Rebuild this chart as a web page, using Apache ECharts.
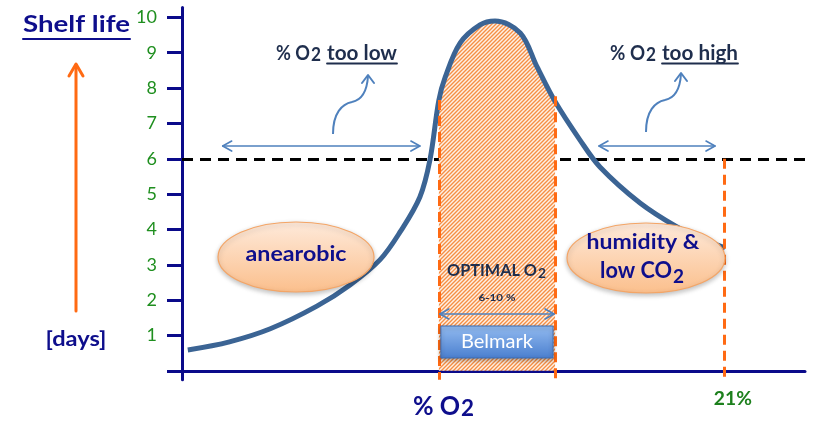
<!DOCTYPE html>
<html><head><meta charset="utf-8">
<script src="https://cdn.jsdelivr.net/npm/echarts@6/dist/echarts.min.js"></script>
<style>html,body{margin:0;padding:0;background:#fff}#c{width:815px;height:421px}</style>
</head><body><div id="c"></div>
<script>
// ---- data (x: % O2 on a log scale, y: shelf life in days) ----
const o2Percent    = [1.99, 2.39, 2.86, 3.51, 4.06, 4.63, 5.06, 5.52, 5.77, 6.0, 6.17, 6.59, 7.19, 7.68, 8.58, 9.24, 10.0, 11.16, 12.18, 14.53, 17.09, 18.91, 21.11];
const shelfLifeDays= [0.59, 0.82, 1.19, 1.83, 2.43, 3.14, 3.93, 4.92, 5.97, 7.66, 8.31, 9.28, 9.79, 9.90, 9.56, 8.60, 7.62, 6.53, 5.77, 4.75, 4.07, 3.76, 3.48];
const yTickValues  = [0,1,2,3,4,5,6,7,8,9,10];
const yLabelValues = [1,2,3,4,5,6,7,8,9,10];
const thresholdDays = 6;
const optimalRange = [6, 10];
const ambientO2 = 21;
const tooLowRange = [2.32, 5.52];
const tooHighRange = [12.13, 20.2];
const rangeArrowDays = 6.36;
const belmarkArrowDays = 1.61;

const FAM = 'Lato, "Open Sans", sans-serif';
const NAVY = '#0e0e8c', SLATE = '#1f2e4d', AXIS = '#0a0a8a', GREEN = '#1f8f1f';
const ORANGE = '#ff6a13', BLUE = '#4f81bd', CURVE = '#3b6494';

const curveData = o2Percent.map((x, i) => [x, shelfLifeDays[i]]);
const optimalData = curveData.filter(p => p[0] >= optimalRange[0] && p[0] <= optimalRange[1]);
const valueAt = x => { const p = curveData.find(d => d[0] === x); return p ? p[1] : thresholdDays; };

function hatch() {
  const c = document.createElement('canvas'); c.width = 4; c.height = 4;
  const g = c.getContext('2d');
  g.fillStyle = '#fff0e4'; g.fillRect(0, 0, 4, 4);
  g.strokeStyle = '#f58f45'; g.lineWidth = 1.35;
  g.beginPath();
  g.moveTo(-1, 5); g.lineTo(5, -1);
  g.moveTo(-1, 1); g.lineTo(1, -1);
  g.moveTo(3, 5); g.lineTo(5, 3);
  g.stroke();
  return c;
}

const chart = echarts.init(document.getElementById('c'));
chart.setOption({
  animation: false,
  grid: { left: 182, right: 10, top: 7.5, bottom: 41.3, outerBoundsMode: 'none' },
  xAxis: {
    type: 'log', min: 1.94, max: 30, logBase: 10,
    axisLine: { onZero: true, lineStyle: { color: AXIS, width: 3 } },
    axisTick: { show: false }, axisLabel: { show: false }, splitLine: { show: false }
  },
  yAxis: {
    type: 'value', min: -0.25, max: 10.28,
    axisLine: { show: true, onZero: false, lineStyle: { color: AXIS, width: 3 } },
    axisTick: { show: true, customValues: yTickValues, length: 15, lineStyle: { color: AXIS, width: 3 } },
    axisLabel: { customValues: yLabelValues, margin: 25, color: GREEN, fontSize: 18, fontFamily: FAM },
    splitLine: { show: false }
  },
  series: [
    { type: 'line', data: [], z: 1, silent: true,
      markLine: { z: 1, symbol: 'none', silent: true, label: { show: false },
        lineStyle: { color: '#000', width: 3, type: [11, 7] },
        data: [{ yAxis: thresholdDays }] } },
    { type: 'line', data: optimalData, smooth: 0.35, symbol: 'none', z: 3, silent: true,
      lineStyle: { width: 0 },
      areaStyle: { color: { image: hatch(), repeat: 'repeat' }, opacity: 1 } },
    { type: 'line', data: curveData, smooth: 0.35, symbol: 'none', z: 4, silent: true,
      lineStyle: { color: CURVE, width: 5 } },
    { type: 'line', data: [], z: 6, silent: true,
      markLine: { z: 6, symbol: 'none', silent: true, label: { show: false },
        lineStyle: { color: ORANGE, width: 3, type: [10, 6] },
        data: [
          [{ coord: [optimalRange[0], valueAt(optimalRange[0])] }, { coord: [optimalRange[0], -0.25] }],
          [{ coord: [optimalRange[1], valueAt(optimalRange[1]) + 0.15] }, { coord: [optimalRange[1], -0.25] }],
          [{ coord: [ambientO2, thresholdDays] }, { coord: [ambientO2, -0.25] }]
        ] } }
  ]
});

// ---- annotations ----
const px = (x, y) => chart.convertToPixel({ xAxisIndex: 0, yAxisIndex: 0 }, [x, y]);
const mctx = document.createElement('canvas').getContext('2d');
function widthAt(t, size, weight) { mctx.font = `${weight} ${size}px ${FAM}`; return mctx.measureText(t).width; }
const els = [];
// text with a given font size, horizontally scaled to a target width
function txt(x, y, t, size, color, weight, align, targetW) {
  const sx = targetW ? targetW / widthAt(t, size, weight) : 1;
  els.push({ type: 'text', x: x, y: y, z: 60, silent: true, scaleX: sx,
    style: { text: t, fill: color, fontSize: size, fontWeight: weight, fontFamily: FAM,
      align: align || 'left', verticalAlign: 'middle' } });
  return sx;
}
function line(x1, y1, x2, y2, color, w) {
  els.push({ type: 'line', z: 55, silent: true, shape: { x1, y1, x2, y2 },
    style: { stroke: color, lineWidth: w, lineCap: 'round' } });
}
function poly(points, color, w) {
  els.push({ type: 'polyline', z: 55, silent: true, shape: { points },
    style: { stroke: color, lineWidth: w, lineCap: 'round', lineJoin: 'round', fill: null } });
}
function dblArrow(x1, x2, y, color) {
  line(x1, y, x2, y, color, 1.6);
  poly([[x1 + 9, y - 5], [x1, y], [x1 + 9, y + 5]], color, 1.6);
  poly([[x2 - 9, y - 5], [x2, y], [x2 - 9, y + 5]], color, 1.6);
}
function curly(dx, dy) {
  els.push({ type: 'bezierCurve', z: 55, silent: true,
    shape: { x1: 333 + dx, y1: 134 + dy, cpx1: 333 + dx, cpy1: 113 + dy, cpx2: 342 + dx, cpy2: 104 + dy, x2: 352 + dx, y2: 102 + dy },
    style: { stroke: BLUE, lineWidth: 2, fill: null } });
  els.push({ type: 'bezierCurve', z: 55, silent: true,
    shape: { x1: 352 + dx, y1: 102 + dy, cpx1: 362 + dx, cpy1: 100 + dy, cpx2: 367 + dx, cpy2: 92 + dy, x2: 368 + dx, y2: 76 + dy },
    style: { stroke: BLUE, lineWidth: 2, fill: null } });
  poly([[362 + dx, 83 + dy], [368 + dx, 75 + dy], [374 + dx, 83 + dy]], BLUE, 2);
}
// main text + subscript, each scaled to the given widths, left-aligned at x0
function withSub(x0, y, main, sub, size, subSize, subDy, mainW, subW, color, weight) {
  txt(x0, y, main, size, color, weight, 'left', mainW);
  txt(x0 + mainW + 1, y + subDy, sub, subSize, color, weight, 'left', subW);
}
function ellipse(cx, cy, rx, ry) {
  els.push({ type: 'ellipse', z: 50, silent: true, shape: { cx, cy, rx, ry },
    style: { fill: { type: 'linear', x: 0, y: 0, x2: 0, y2: 1,
      colorStops: [{ offset: 0, color: '#feeadb' }, { offset: 1, color: '#fbbf8c' }] },
      stroke: '#f4a566', lineWidth: 1.2, shadowBlur: 5, shadowColor: 'rgba(0,0,0,0.25)', shadowOffsetY: 2 } });
}

// title & unit
txt(23, 25, 'Shelf life', 23, NAVY, 'bold', 'left', 107);
line(23, 39, 130, 39, NAVY, 2);
line(76, 311, 76, 65, ORANGE, 3);
poly([[69, 76], [76, 64], [83, 76]], ORANGE, 3);
txt(76, 339, '[days]', 21, NAVY, 'bold', 'center', 61);

// range arrows
let a = px(tooLowRange[0], rangeArrowDays), b = px(tooLowRange[1], rangeArrowDays);
dblArrow(a[0], b[0], a[1], BLUE);
a = px(tooHighRange[0], rangeArrowDays); b = px(tooHighRange[1], rangeArrowDays);
dblArrow(a[0], b[0], a[1], BLUE);
curly(0, 0);
curly(313, -2);

// "% O2 too low" / "% O2 too high"
withSub(276, 54, '% O', '2', 20, 18, 1.5, 34, 10, SLATE, 'bold');
txt(327, 54, 'too low', 20, SLATE, 'bold', 'left', 70);
line(327, 63.5, 397, 63.5, SLATE, 1.8);
withSub(610, 54, '% O', '2', 20, 18, 1.5, 35, 10, SLATE, 'bold');
txt(662, 54, 'too high', 20, SLATE, 'bold', 'left', 76);
line(662, 63.5, 738, 63.5, SLATE, 1.8);

// ellipses
ellipse(296, 257, 78, 35);
txt(296, 254, 'anearobic', 21, NAVY, 'bold', 'center', 101);
ellipse(646, 258, 79, 35);
txt(643, 242, 'humidity &', 21, NAVY, 'bold', 'center', 113);
withSub(600, 271, 'low CO', '2', 22, 18, 6, 72, 11, NAVY, 'bold');

// optimal region
withSub(447, 271, 'OPTIMAL O', '2', 17, 13.5, 2.5, 90, 8, SLATE, 'bold');
const rangeLabel = `${optimalRange[0]}-${optimalRange[1]} %`;
const L = px(optimalRange[0], belmarkArrowDays), R = px(optimalRange[1], belmarkArrowDays);
const mid = (L[0] + R[0]) / 2;
txt(mid, 298, rangeLabel, 10, SLATE, 'bold', 'center', 37);
dblArrow(L[0] + 1, R[0] - 1, L[1], BLUE);
els.push({ type: 'rect', z: 56, silent: true,
  shape: { x: L[0] + 2, y: 326, width: R[0] - L[0] - 4, height: 32 },
  style: { fill: { type: 'linear', x: 0, y: 0, x2: 0, y2: 1,
    colorStops: [{ offset: 0, color: '#93bbf0' }, { offset: 1, color: '#4a7fcf' }] },
    stroke: '#3d6db2', lineWidth: 1, shadowBlur: 4, shadowColor: 'rgba(0,0,0,0.3)', shadowOffsetY: 2 } });
txt(mid, 342, 'Belmark', 18.5, '#ffffff', 'normal', 'center', 72);

// x axis texts
withSub(413, 406, '% O', '2', 27, 22, 3, 47, 13, NAVY, 'bold');
const p21 = px(ambientO2, 0);
txt(p21[0] + 9, 399, `${ambientO2}%`, 19, '#1d801d', 'bold', 'center', 38);

chart.setOption({ graphic: { elements: els } });
</script>
</body></html>
